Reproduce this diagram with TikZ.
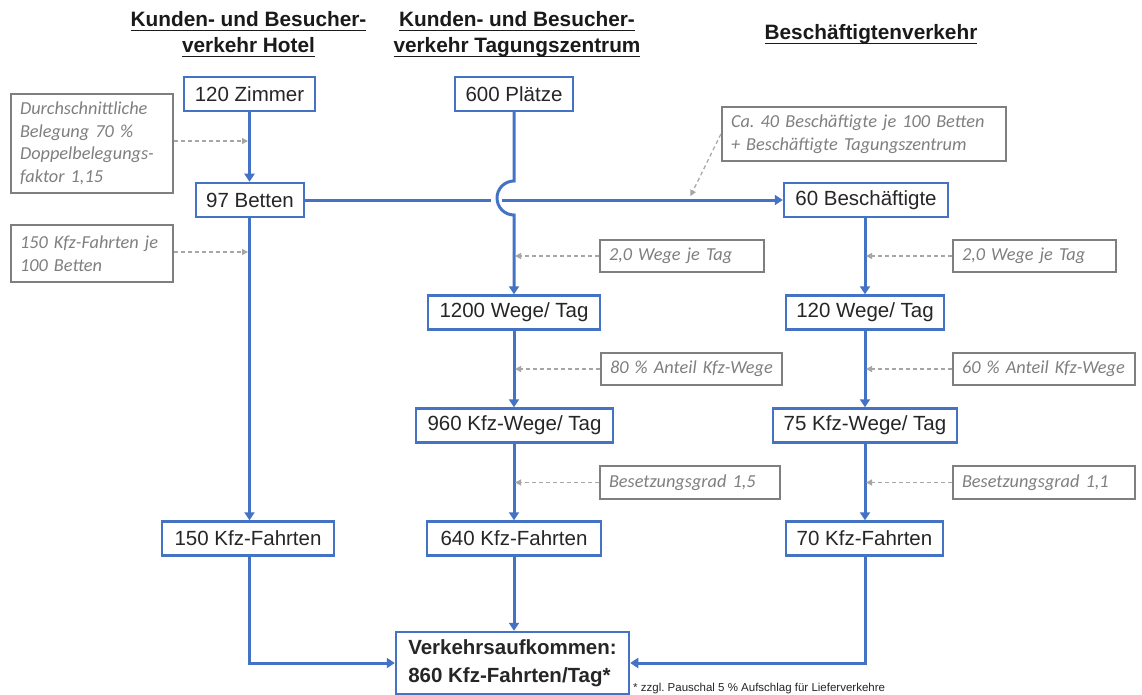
\documentclass[tikz,border=0pt]{standalone}
\usepackage{fontspec}
\setmainfont{Liberation Sans}
\newfontfamily\notefont{Carlito}
\frenchspacing
\newcommand\myul[1]{\setbox0\hbox{#1}\rlap{\vrule height -2.6pt depth 4.4pt width \wd0}\box0}
\usetikzlibrary{arrows.meta}
\definecolor{boxblue}{HTML}{4472C4}
\definecolor{txtdark}{HTML}{262626}
\definecolor{notegray}{HTML}{7F7F7F}
\definecolor{hintgray}{HTML}{A6A6A6}
\definecolor{headcol}{HTML}{1A1A1A}
\tikzset{
  bluebox/.style={draw=boxblue, line width=2.5pt, fill=white, text=txtdark,
    font=\fontsize{20.5}{24}\selectfont, minimum height=34pt, inner sep=0pt},
  notebox/.style={draw=notegray, line width=2.2pt, fill=white, text=notegray,
    font=\notefont\itshape\fontsize{18.3}{22.5}\selectfont\frenchspacing, align=left,
    inner xsep=9pt, inner ysep=0pt},
  flow/.style={draw=boxblue, line width=3pt, -{Triangle[width=10pt,length=8pt]}},
  plainflow/.style={draw=boxblue, line width=3pt},
  hint/.style={draw=hintgray, line width=1.2pt, dash pattern=on 4pt off 3pt,
    -{Triangle[width=6pt,length=6pt]}, shorten >=1pt},
  head/.style={text=headcol, font=\bfseries\fontsize{20.8}{25}\selectfont, anchor=base, inner sep=0pt},
}
\begin{document}
\begin{tikzpicture}[x=1pt,y=-1pt]
\useasboundingbox[fill=white] (0,0) rectangle (1142,695);

% headings
\node[head] (h1a) at (248.5,27) {\myul{Kunden- und Besucher-}};
\node[head] (h1b) at (248.5,53) {\myul{verkehr Hotel}};
\node[head] (h2a) at (517,27) {\myul{Kunden- und Besucher-}};
\node[head] (h2b) at (517,53) {\myul{verkehr Tagungszentrum}};
\node[head] (h3) at (871,40) {\myul{Beschäftigtenverkehr}};

% blue boxes
\node[bluebox, minimum width=131pt] (zimmer) at (249.5,94) {120 Zimmer};
\node[bluebox, minimum width=118pt] (plaetze) at (514,94) {600 Plätze};
\node[bluebox, minimum width=108pt] (betten) at (250,200) {97 Betten};
\node[bluebox, minimum width=164pt] (besch) at (866,200) {60 Beschäftigte};
\node[bluebox, minimum width=172pt] (wegeA) at (514,312.5) {1200 Wege/ Tag};
\node[bluebox, minimum width=158pt] (wegeB) at (865,312.5) {120 Wege/ Tag};
\node[bluebox, minimum width=197pt] (kfzA) at (514.5,425.5) {960 Kfz-Wege/ Tag};
\node[bluebox, minimum width=184pt] (kfzB) at (865,425.5) {75 Kfz-Wege/ Tag};
\node[bluebox, minimum width=172pt] (fH) at (248,538.5) {150 Kfz-Fahrten};
\node[bluebox, minimum width=174pt] (fA) at (514,538.5) {640 Kfz-Fahrten};
\node[bluebox, minimum width=157pt] (fB) at (864.5,538.5) {70 Kfz-Fahrten};
\node[bluebox, minimum width=233pt, minimum height=62pt, align=left,
  font=\bfseries\fontsize{20.5}{28}\selectfont] (verk) at (512.5,663)
  {Verkehrsaufkommen:\\860 Kfz-Fahrten/Tag*};

% gray notes
\node[notebox, text width=144pt, minimum height=99pt] (n1) at (92,143.5)
  {Durchschnittliche\\Belegung 70 \%\\Doppelbelegungs-\\faktor 1,15};
\node[notebox, text width=144pt, minimum height=57pt] (n2) at (92,253.5)
  {150 Kfz-Fahrten je\\100 Betten};
\node[notebox, text width=266pt, minimum height=54pt] (n3) at (864,134)
  {Ca. 40 Beschäftigte je 100 Betten\\+ Beschäftigte Tagungszentrum};
\node[notebox, text width=146pt, minimum height=32pt] (n4) at (682,256)
  {2,0 Wege je Tag};
\node[notebox, text width=145pt, minimum height=32pt] (n5) at (1034.5,256)
  {2,0 Wege je Tag};
\node[notebox, text width=163pt, minimum height=32pt] (n6) at (691.5,369)
  {80 \% Anteil Kfz-Wege};
\node[notebox, text width=164pt, minimum height=32pt] (n7) at (1044,369)
  {60 \% Anteil Kfz-Wege};
\node[notebox, text width=162pt, minimum height=33pt] (n8) at (690,482.5)
  {Besetzungsgrad 1,5};
\node[notebox, text width=164pt, minimum height=33pt] (n9) at (1044,482.5)
  {Besetzungsgrad 1,1};

% footnote
\node[anchor=base west, inner sep=0pt, text=txtdark, font=\fontsize{11.5}{13}\selectfont]
  (foot) at (633,691) {* zzgl. Pauschal 5 \% Aufschlag für Lieferverkehre};

% flows
\draw[flow] (zimmer.south) -- (betten.north -| zimmer.south);
\draw[flow] (betten.south -| zimmer.south) -- (fH.north -| zimmer.south);
\coordinate (gapL) at (491,200);
\coordinate (gapR) at (502,200);
\draw[plainflow] (betten.east) -- (gapL);
\draw[flow] (gapR) -- (besch.west);
\draw[flow] (plaetze.south) -- (514,181) arc[start angle=90, end angle=270, radius=17pt] -- (wegeA.north);
\draw[flow] (wegeA.south) -- (kfzA.north -| wegeA.south);
\draw[flow] (kfzA.south -| wegeA.south) -- (fA.north);
\draw[flow] (besch.south -| wegeB.north) -- (wegeB.north);
\draw[flow] (wegeB.south) -- (kfzB.north);
\draw[flow] (kfzB.south) -- (fB.north -| kfzB.south);
\draw[flow] (fH.south -| zimmer.south) |- (verk.west);
\draw[flow] (fA.south) -- (fA.south |- verk.north);
\draw[flow] (fB.south -| kfzB.south) |- (verk.east);

% hints
\draw[hint] (n1.east |- 0,141) -- (249,141);
\draw[hint] (n2.east |- 0,252) -- (249,252);
\coordinate (caT) at (690,197);
\draw[hint] (n3.west) -- (caT);
\draw[hint] (n4.west) -- (n4.west -| wegeA.south);
\draw[hint] (n5.west) -- (n5.west -| wegeB.south);
\draw[hint] (n6.west) -- (n6.west -| wegeA.south);
\draw[hint] (n7.west) -- (n7.west -| wegeB.south);
\draw[hint] (n8.west) -- (n8.west -| wegeA.south);
\draw[hint] (n9.west) -- (n9.west -| wegeB.south);
\end{tikzpicture}
\end{document}
